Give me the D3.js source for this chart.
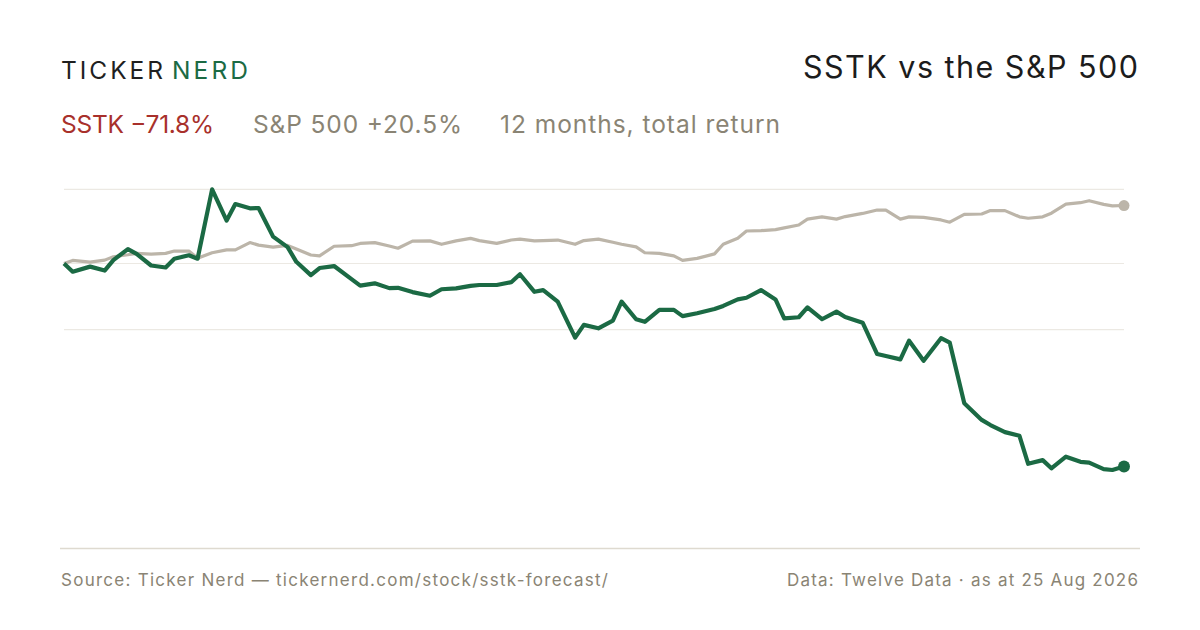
<!DOCTYPE html>
<html>
<head>
<meta charset="utf-8">
<script src="https://cdn.jsdelivr.net/npm/d3@7"></script>
<style>
  html, body { margin: 0; padding: 0; background: #fff; }
  svg { display: block; font-family: Inter, "Noto Sans", sans-serif; }
</style>
</head>
<body>
<div id="chart"></div>
<script>
// every third trading day, last point is the as-at date
const dates = [
  "2025-08-25","2025-08-28","2025-09-03","2025-09-08","2025-09-11","2025-09-16","2025-09-19","2025-09-24",
  "2025-09-29","2025-10-02","2025-10-07","2025-10-10","2025-10-15","2025-10-20","2025-10-23","2025-10-28",
  "2025-10-31","2025-11-05","2025-11-10","2025-11-13","2025-11-18","2025-11-21","2025-11-26","2025-12-02",
  "2025-12-05","2025-12-10","2025-12-15","2025-12-18","2025-12-23","2025-12-29","2026-01-02","2026-01-07",
  "2026-01-12","2026-01-15","2026-01-21","2026-01-26","2026-01-29","2026-02-03","2026-02-06","2026-02-11",
  "2026-02-17","2026-02-20","2026-02-25","2026-03-02","2026-03-05","2026-03-10","2026-03-13","2026-03-18",
  "2026-03-23","2026-03-26","2026-03-31","2026-04-06","2026-04-09","2026-04-14","2026-04-17","2026-04-22",
  "2026-04-27","2026-04-30","2026-05-05","2026-05-08","2026-05-13","2026-05-18","2026-05-21","2026-05-27",
  "2026-06-01","2026-06-04","2026-06-09","2026-06-12","2026-06-17","2026-06-23","2026-06-26","2026-07-01",
  "2026-07-07","2026-07-10","2026-07-15","2026-07-20","2026-07-23","2026-07-28","2026-07-31","2026-08-05",
  "2026-08-10","2026-08-13","2026-08-18","2026-08-21","2026-08-25"
];

// cumulative total return, %
const sstk = [
  0, -2.9, -1.1, -2.5, 1.2, 5.1, 3.4, -0.7, -1.4, 1.7, 2.9, 1.7, 26.2, 15.2, 21.0, 19.5,
  19.6, 9.5, 5.8, 0.6, -4.1, -1.6, -0.9, -5.5, -7.8, -7.0, -8.7, -8.6, -10.1, -11.4, -9.1, -8.8,
  -7.9, -7.6, -7.6, -6.6, -3.8, -10.0, -9.4, -13.5, -26.2, -21.7, -22.9, -20.2, -13.5, -19.7, -20.6, -16.4,
  -16.4, -18.6, -17.6, -16.1, -15.0, -12.7, -12.1, -9.4, -12.7, -19.4, -19.0, -15.5, -19.7, -17.0, -18.9, -20.9,
  -32.0, -32.7, -33.9, -27.3, -34.4, -26.4, -28.0, -49.4, -55.3, -57.1, -59.6, -60.9, -70.8, -69.5, -72.4, -68.3,
  -70.1, -70.4, -72.7, -73.0, -71.8
];

const spx = [
  0, 1.1, 0.5, 1.2, 2.4, 3.1, 3.6, 3.3, 3.6, 4.4, 4.4, 1.9, 3.8, 4.8, 4.8, 7.4,
  6.5, 5.8, 6.4, 5.1, 3.0, 2.7, 6.1, 6.3, 7.1, 7.4, 6.2, 5.4, 7.9, 8.0, 6.8, 8.0,
  8.9, 8.1, 7.1, 8.3, 8.6, 8.0, 8.1, 8.3, 6.8, 8.1, 8.6, 7.5, 6.8, 5.9, 3.8, 3.6,
  2.7, 1.1, 1.8, 3.4, 6.8, 8.9, 11.5, 11.6, 12.0, 12.6, 13.6, 15.7, 16.5, 15.7, 16.6, 17.7,
  18.9, 18.9, 15.7, 16.5, 16.3, 15.4, 14.6, 17.4, 17.5, 18.7, 18.7, 16.5, 16.0, 16.5, 17.8, 21.0,
  21.5, 22.2, 20.9, 20.4, 20.5
];

const tickerName = "SSTK";
const indexName = "S&P 500";
const totalReturns = [-71.8, 20.5];

const W = 1200, H = 630;
const green = "#1b6a44", red = "#a8302b", taupe = "#8a8474", lineGrey = "#bcb5a9";

const svg = d3.select("#chart").append("svg")
  .attr("width", W).attr("height", H);

const parse = d3.utcParse("%Y-%m-%d");
const rows = dates.map((d, i) => ({ date: parse(d), a: sstk[i], b: spx[i] }));

const x = d3.scaleUtc()
  .domain(d3.extent(rows, d => d.date))
  .range([64, 1124]);

const allVals = sstk.concat(spx);
const [yMin, yMax] = d3.extent(allVals);
const y = d3.scaleLinear()
  .domain([yMin, yMax])
  .range([470, 189.4]);

// gridlines: top, middle and zero
const gridVals = [yMax, (yMin + yMax) / 2, 0];
svg.append("g")
  .selectAll("line")
  .data(gridVals)
  .join("line")
  .attr("x1", 64).attr("x2", 1124)
  .attr("y1", d => y(d)).attr("y2", d => y(d))
  .attr("stroke", "#ece9e3")
  .attr("stroke-width", 1.2);

const line = key => d3.line()
  .x(d => x(d.date))
  .y(d => y(d[key]));

svg.append("path")
  .datum(rows)
  .attr("d", line("b"))
  .attr("fill", "none")
  .attr("stroke", lineGrey)
  .attr("stroke-width", 3.2)
  .attr("stroke-linejoin", "round");

svg.append("path")
  .datum(rows)
  .attr("d", line("a"))
  .attr("fill", "none")
  .attr("stroke", green)
  .attr("stroke-width", 4.2)
  .attr("stroke-linejoin", "round");

const last = rows[rows.length - 1];
svg.append("circle")
  .attr("cx", x(last.date)).attr("cy", y(last.b))
  .attr("r", 5.5).attr("fill", lineGrey);
svg.append("circle")
  .attr("cx", x(last.date)).attr("cy", y(last.a))
  .attr("r", 6).attr("fill", green);

// text helper: fit to the width taken in the layout
function label(tx, ty, str, size, fill, width, anchor) {
  const t = svg.append("text")
    .attr("x", tx).attr("y", ty)
    .attr("font-size", size)
    .attr("fill", fill)
    .attr("text-anchor", anchor || "start")
    .text(str);
  if (width) t.attr("textLength", width).attr("lengthAdjust", "spacing");
  return t;
}

// header
label(61, 79, "TICKER", 24.5, "#1f1f1f", 102);
label(172, 79, "NERD", 24.5, green, 76);
label(1138, 78, `${tickerName} vs the ${indexName}`, 30.5, "#1c1c1c", 335, "end");

const fmt = v => (v < 0 ? "\u2212" : "+") + Math.abs(v).toFixed(1) + "%";
const subs = [
  { t: `${tickerName} ${fmt(totalReturns[0])}`, c: red, x: 61, w: 153 },
  { t: `${indexName} ${fmt(totalReturns[1])}`, c: taupe, x: 253, w: 209 },
  { t: "12 months, total return", c: taupe, x: 500, w: 280 }
];
subs.forEach(s => label(s.x, 132.5, s.t, 24.5, s.c, s.w));

// footer
svg.append("line")
  .attr("x1", 60).attr("x2", 1140)
  .attr("y1", 548.5).attr("y2", 548.5)
  .attr("stroke", "#dedad0")
  .attr("stroke-width", 1.5);

label(61, 585.5, "Source: Ticker Nerd \u2014 tickernerd.com/stock/sstk-forecast/", 17, taupe, 547);
label(1138, 585.5, "Data: Twelve Data \u00b7 as at 25 Aug 2026", 17, taupe, 351, "end");
</script>
</body>
</html>
